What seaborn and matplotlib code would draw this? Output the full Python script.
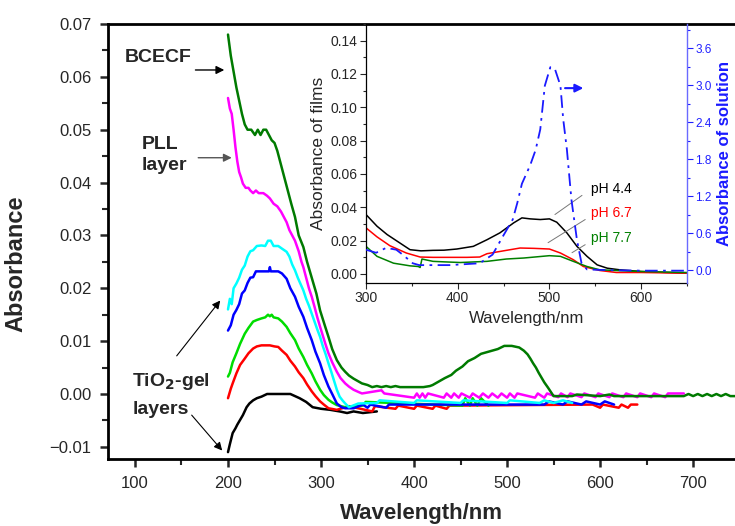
import numpy as np
import pandas as pd
import matplotlib
matplotlib.use("Agg")
import matplotlib.pyplot as plt
from matplotlib.ticker import MultipleLocator, FormatStrFormatter, FuncFormatter
import seaborn as sns

# ---------------- main-panel data (wavelength nm, absorbance) ----------------
bcecf_nm = [200, 203, 206, 209, 212, 215, 218, 221, 225, 229, 232, 235, 238, 241, 244, 247, 250, 253,
            256, 259, 262, 265, 268, 272, 276, 281, 285, 290, 295, 299, 304, 308, 312, 317, 322, 326,
            330, 335, 340, 344, 350, 355, 360, 365, 370, 375, 380, 385, 390, 400, 410, 417, 420, 425,
            433, 440, 445, 452, 458, 465, 472, 480, 490, 497, 505, 513, 518, 522, 525, 528, 531, 534,
            537, 540, 544, 547, 550, 570, 575, 600, 610, 615, 650, 690, 695, 700, 705, 710, 715, 720,
            725, 730, 735, 740, 745]
bcecf_abs = [0.068, 0.064, 0.061, 0.058, 0.0555, 0.053, 0.051, 0.050, 0.050, 0.049, 0.050, 0.049, 0.050,
             0.050, 0.049, 0.048, 0.0475, 0.046, 0.044, 0.042, 0.040, 0.038, 0.036, 0.0335, 0.030,
             0.0278, 0.025, 0.022, 0.019, 0.0158, 0.013, 0.0108, 0.0085, 0.0064, 0.005, 0.0042, 0.0035,
             0.0029, 0.0024, 0.002, 0.0017, 0.0013, 0.0015, 0.0013, 0.0015, 0.0013, 0.0015, 0.0013,
             0.0013, 0.0013, 0.0013, 0.0015, 0.0017, 0.0022, 0.003, 0.0036, 0.0044, 0.0052, 0.0062,
             0.0068, 0.0076, 0.0080, 0.0085, 0.0091, 0.0091, 0.0088, 0.0082, 0.0075, 0.0067, 0.0058,
             0.0050, 0.0040, 0.0031, 0.0022, 0.0012, 0.0004, -0.0004, -0.0004, -0.0001, -0.0004,
             -0.0001, -0.0004, -0.0004, -0.0004, 0.0000, -0.0004, 0.0000, -0.0004, 0.0000, -0.0004,
             0.0000, -0.0004, 0.0000, -0.0004, -0.0004]

pll_nm = [200, 202, 204, 206, 208, 210, 212, 214, 216, 219, 222, 224, 227, 230, 233, 238, 242, 245, 249,
          253, 257, 260, 263, 266, 269, 272, 276, 279, 281, 284, 287, 290, 293, 296, 299, 302, 305, 308,
          312, 317, 321, 326, 330, 335, 340, 344, 365, 368, 400, 403, 406, 409, 412, 415, 432, 435, 440,
          443, 448, 451, 460, 463, 470, 474, 480, 484, 490, 494, 500, 503, 508, 511, 530, 533, 540, 543,
          555, 558, 565, 568, 580, 583, 595, 598, 610, 613, 625, 628, 640, 643, 655, 658, 670, 673, 690]
pll_abs = [0.056, 0.054, 0.053, 0.050, 0.0467, 0.044, 0.042, 0.041, 0.0398, 0.039, 0.039, 0.0385, 0.038,
           0.0385, 0.038, 0.038, 0.0375, 0.037, 0.036, 0.0355, 0.0345, 0.0335, 0.0325, 0.031, 0.030,
           0.029, 0.027, 0.025, 0.024, 0.022, 0.020, 0.0184, 0.0165, 0.0145, 0.0127, 0.011, 0.0093,
           0.0077, 0.006, 0.0042, 0.003, 0.002, 0.0014, 0.0008, 0.0004, 0.0001, 0.0007, 0.0001, -0.0007,
           0.0001, -0.0007, 0.0001, -0.0007, 0.0001, -0.0007, 0.0001, -0.0007, 0.0001, -0.0007, 0.0001,
           -0.0007, 0.0001, -0.0007, 0.0001, -0.0007, 0.0001, -0.0007, 0.0001, -0.0007, 0.0001, -0.0007,
           0.0001, -0.0007, 0.0001, -0.0007, 0.0001, -0.0006, 0.0001, -0.0006, 0.0001, -0.0006, 0.0001,
           -0.0006, 0.0001, -0.0006, 0.0001, -0.0006, 0.0001, -0.0006, 0.0001, -0.0006, 0.0001,
           -0.0006, 0.0001, 0.0001]

cyan_nm = [200, 202, 204, 206, 209, 212, 215, 218, 221, 224, 227, 231, 236, 240, 243, 246, 249, 254, 258,
           263, 266, 269, 272, 275, 278, 281, 284, 287, 290, 293, 296, 299, 302, 305, 308, 311, 314, 317,
           320, 323, 326, 330, 340, 360, 363, 400, 403, 450, 453, 500, 503, 535, 540, 550, 560, 570]
cyan_abs = [0.016, 0.018, 0.017, 0.020, 0.0209, 0.022, 0.0235, 0.0243, 0.026, 0.027, 0.0272, 0.028,
            0.0281, 0.028, 0.029, 0.029, 0.028, 0.028, 0.0275, 0.0269, 0.026, 0.0245, 0.0234, 0.022,
            0.0208, 0.0196, 0.018, 0.0167, 0.0152, 0.0137, 0.0122, 0.0108, 0.009, 0.0075, 0.0058, 0.0042,
            0.0025, 0.0008, -0.0005, -0.0012, -0.0018, -0.0025, -0.0018, -0.0017, -0.0012, -0.0017,
            -0.0012, -0.0017, -0.0012, -0.0017, -0.0012, -0.0017, -0.0012, -0.0017, -0.0012, -0.0017]

blue_nm = [200, 203, 206, 209, 212, 215, 218, 221, 224, 227, 230, 244, 245, 246, 254, 258, 263, 267, 272,
           276, 281, 285, 290, 294, 299, 303, 308, 312, 317, 322, 326, 335, 345, 350, 353, 370, 373,
           540, 545, 560, 565, 580, 585, 600, 605, 615]
blue_abs = [0.012, 0.013, 0.015, 0.0159, 0.017, 0.019, 0.0196, 0.021, 0.022, 0.0221, 0.0232, 0.0232,
            0.024, 0.0232, 0.0232, 0.0228, 0.0218, 0.020, 0.0184, 0.0165, 0.0146, 0.0125, 0.0102, 0.008,
            0.0058, 0.0036, 0.0014, 0.0, -0.0018, -0.0025, -0.0027, -0.0027, -0.0020, -0.0026, -0.0020,
            -0.0026, -0.0020, -0.0020, -0.0014, -0.0020, -0.0014, -0.0020, -0.0014, -0.0020, -0.0014,
            -0.0020]

lime_nm = [200, 202, 205, 209, 213, 218, 222, 227, 231, 236, 240, 243, 245, 247, 249, 254, 258, 263, 267,
           272, 276, 281, 285, 290, 294, 299, 303, 308, 312, 317, 326, 345, 348, 452, 455, 460, 463, 468,
           472, 480]
lime_abs = [0.0033, 0.004, 0.006, 0.0077, 0.0095, 0.0114, 0.0125, 0.0137, 0.014, 0.0143, 0.0145, 0.015,
            0.0147, 0.015, 0.0145, 0.0143, 0.0137, 0.0127, 0.0115, 0.0102, 0.0086, 0.007, 0.0055, 0.0039,
            0.0024, 0.0008, -0.0002, -0.0011, -0.0016, -0.0021, -0.0025, -0.0022, -0.0015, -0.0022,
            -0.0008, -0.0022, -0.0008, -0.0022, -0.0008, -0.0022]

red_nm = [200, 203, 205, 209, 213, 218, 222, 227, 231, 236, 245, 250, 254, 258, 263, 267, 272, 276, 281,
          285, 290, 294, 299, 303, 308, 317, 330, 355, 358, 380, 383, 400, 403, 420, 423, 435, 438, 592,
          600, 603, 620, 623, 630, 633, 640]
red_abs = [-0.0008, 0.001, 0.002, 0.0039, 0.0055, 0.0067, 0.0077, 0.0086, 0.009, 0.0092, 0.0092, 0.009,
           0.0089, 0.0082, 0.0074, 0.0063, 0.0052, 0.0041, 0.003, 0.0018, 0.0005, -0.0004, -0.0014,
           -0.002, -0.0027, -0.003, -0.0023, -0.0033, -0.0023, -0.0028, -0.0022, -0.0028, -0.0022,
           -0.0028, -0.0022, -0.0028, -0.0022, -0.0020, -0.0026, -0.0020, -0.0026, -0.0020, -0.0026,
           -0.0020, -0.0020]

black_nm = [200, 202, 205, 208, 210, 213, 216, 220, 223, 227, 231, 236, 242, 250, 260, 267, 272, 277, 284,
            291, 300, 310, 320, 328, 335, 345, 360]
black_abs = [-0.011, -0.0095, -0.0074, -0.0065, -0.0058, -0.0049, -0.004, -0.0025, -0.0018, -0.0012,
             -0.0008, -0.0005, 0.0, 0.0, 0.0, 0.0, -0.0004, -0.0008, -0.0015, -0.0025, -0.0028, -0.003,
             -0.0033, -0.0036, -0.0033, -0.0036, -0.0033]

main_names = ["black", "red", "lime", "blue", "cyan", "PLL", "BCECF"]
main_colors = ["#000000", "#ff0000", "#00dd00", "#0000ff", "#00ffff", "#ff00ff", "#007a00"]

# ---------------- inset data ----------------
ph44_nm = [300, 312, 323, 337, 348, 360, 373, 385, 399, 417, 432, 446, 461, 470, 479, 490, 500, 508, 519,
           530, 541, 552, 563, 577, 600, 628, 650]
ph44_abs = [0.0356, 0.0286, 0.0236, 0.0185, 0.0145, 0.0138, 0.0141, 0.0142, 0.0149, 0.0165, 0.0205,
            0.0246, 0.0306, 0.0336, 0.033, 0.0326, 0.033, 0.031, 0.0246, 0.0165, 0.0105, 0.0054, 0.0034,
            0.0024, 0.0014, 0.0008, 0.0004]

ph67_nm = [300, 312, 326, 344, 359, 373, 410, 424, 432, 453, 468, 483, 500, 512, 526, 537, 555, 573, 600,
           650]
ph67_abs = [0.0276, 0.0222, 0.0169, 0.0125, 0.0101, 0.0099, 0.0099, 0.0101, 0.0121, 0.0141, 0.0155,
            0.0153, 0.0149, 0.0125, 0.0085, 0.0044, 0.002, 0.0008, 0.0008, 0.0004]

ph77_nm = [300, 312, 330, 348, 357, 359, 361, 373, 385, 403, 432, 453, 472, 500, 512, 526, 541, 555, 600,
           650]
ph77_abs = [0.0165, 0.0105, 0.0064, 0.0048, 0.0044, 0.0038, 0.0089, 0.0075, 0.0072, 0.0068, 0.0075,
            0.0089, 0.0095, 0.0109, 0.0105, 0.0075, 0.0044, 0.0024, 0.0014, 0.0008]

sol_nm = [300, 311, 322, 333, 340, 351, 358, 391, 424, 438, 449, 460, 465, 470, 479, 485, 490, 495, 501,
          506, 512, 515, 519, 524, 530, 535, 541, 560, 600, 650]
sol_abs = [0.33, 0.28, 0.36, 0.33, 0.25, 0.11, 0.08, 0.08, 0.11, 0.25, 0.54, 0.82, 1.09, 1.40, 1.70, 1.95,
           2.28, 2.99, 3.29, 3.26, 2.99, 2.45, 1.96, 1.14, 0.49, 0.11, 0.01, 0.0, -0.01, -0.01]

film_names = ["pH 4.4", "pH 6.7", "pH 7.7"]
film_colors = ["#000000", "#ff0000", "#008000"]

# ---------------- build tables ----------------
main_nm = [black_nm, red_nm, lime_nm, blue_nm, cyan_nm, pll_nm, bcecf_nm]
main_abs = [black_abs, red_abs, lime_abs, blue_abs, cyan_abs, pll_abs, bcecf_abs]
df_main = pd.concat([pd.DataFrame({"nm": x, "abs": y, "series": n})
                     for x, y, n in zip(main_nm, main_abs, main_names)], ignore_index=True)
df_film = pd.concat([pd.DataFrame({"nm": x, "abs": y, "series": n})
                     for x, y, n in zip([ph44_nm, ph67_nm, ph77_nm], [ph44_abs, ph67_abs, ph77_abs],
                                        film_names)], ignore_index=True)
df_sol = pd.DataFrame({"nm": sol_nm, "abs": sol_abs})

sns.set_style("ticks")
plt.rcParams["font.family"] = ["Liberation Sans", "DejaVu Sans"]
plt.rcParams["axes.unicode_minus"] = True

W, H = 735, 526
fig = plt.figure(figsize=(W / 100, H / 100), dpi=100)

# main axes
L, R, T, B = 108, 735, 24, 459
ax = fig.add_axes([L / W, 1 - B / H, (R - L) / W, (B - T) / H])
sns.lineplot(data=df_main, x="nm", y="abs", hue="series", hue_order=main_names,
             palette=dict(zip(main_names, main_colors)), estimator=None, sort=False,
             linewidth=1.8, legend=False, ax=ax)
ax.set_xlim(71, 745)
ax.set_ylim(-0.0123, 0.07)
ax.xaxis.set_major_locator(MultipleLocator(100))
ax.xaxis.set_minor_locator(MultipleLocator(50))
ax.yaxis.set_major_locator(MultipleLocator(0.01))
ax.yaxis.set_minor_locator(MultipleLocator(0.005))
ax.yaxis.set_major_formatter(FuncFormatter(lambda v, p: ("%.2f" % v).replace("-", "\u2212")
                                           if abs(v) > 1e-9 else "0.00"))
ax.tick_params(which="major", direction="out", length=6, width=1.8, labelsize=12, pad=6)
ax.tick_params(which="minor", direction="out", length=4, width=1.5)
for s in ["left", "bottom", "top"]:
    ax.spines[s].set_linewidth(2.0)
    ax.spines[s].set_color("black")
ax.spines["right"].set_visible(False)
ax.spines["top"].set_visible(True)
ax.set_xlabel("Wavelength/nm", fontsize=16, fontweight="bold", labelpad=9)
ax.set_ylabel("Absorbance", fontsize=17, fontweight="bold")
ax.yaxis.set_label_coords(-0.128, 0.45)

# annotations, main panel
ax.text(89, 0.0636, "BCECF", fontsize=14, fontweight="bold", ha="left", va="center")
ax.annotate("", xy=(199, 0.0613), xytext=(162, 0.0613),
            arrowprops=dict(arrowstyle="-|>", color="black", lw=1.0, mutation_scale=12))
ax.text(107.5, 0.0452, "PLL\nlayer", fontsize=14, fontweight="bold", ha="left", va="center",
        linespacing=1.35)
ax.annotate("", xy=(207, 0.0447), xytext=(165, 0.0447),
            arrowprops=dict(arrowstyle="-|>", color="#555555", lw=1.0, mutation_scale=12))
ax.text(97, 0.0023, r"TiO$_{\mathbf{2}}$-gel", fontsize=14, fontweight="bold", ha="left", va="center")
ax.text(97, -0.003, "layers", fontsize=14, fontweight="bold", ha="left", va="center")
ax.annotate("", xy=(193.5, 0.0181), xytext=(143, 0.0068),
            arrowprops=dict(arrowstyle="-|>", color="black", lw=0.8, mutation_scale=12))
ax.annotate("", xy=(195.7, -0.0111), xytext=(159, -0.0036),
            arrowprops=dict(arrowstyle="-|>", color="black", lw=0.8, mutation_scale=12))

# inset
iL, iR, iT, iB = 366, 687, 24, 283
ax2 = fig.add_axes([iL / W, 1 - iB / H, (iR - iL) / W, (iB - iT) / H])
ax2.patch.set_alpha(0)
sns.lineplot(data=df_film, x="nm", y="abs", hue="series", hue_order=film_names,
             palette=dict(zip(film_names, film_colors)), estimator=None, sort=False,
             linewidth=1.1, legend=False, ax=ax2)
ax2.set_xlim(300, 650)
ax2.set_ylim(-0.0055, 0.150)
ax2.xaxis.set_major_locator(MultipleLocator(100))
ax2.xaxis.set_minor_locator(MultipleLocator(50))
ax2.yaxis.set_major_locator(MultipleLocator(0.02))
ax2.yaxis.set_minor_locator(MultipleLocator(0.01))
ax2.yaxis.set_major_formatter(FormatStrFormatter("%.2f"))
ax2.tick_params(which="major", direction="out", length=4, width=0.8, labelsize=10, pad=2)
ax2.tick_params(which="minor", direction="out", length=2.5, width=0.8)
ax2.spines["top"].set_visible(False)
ax2.spines["right"].set_visible(False)
for s in ["left", "bottom"]:
    ax2.spines[s].set_linewidth(0.9)
    ax2.spines[s].set_color("black")
ax2.set_xlabel("Wavelength/nm", fontsize=12, labelpad=4)
ax2.set_ylabel("Absorbance of films", fontsize=12.5, labelpad=3)

ax3 = ax2.twinx()
sns.lineplot(data=df_sol, x="nm", y="abs", color="#1a1aff", linewidth=1.3,
             linestyle=(0, (7, 3, 1.5, 3)), estimator=None, sort=False, ax=ax3)
ax3.set_ylim(-0.21, 3.99)
ax3.yaxis.set_major_locator(MultipleLocator(0.6))
ax3.yaxis.set_minor_locator(MultipleLocator(0.3))
ax3.yaxis.set_major_formatter(FormatStrFormatter("%.1f"))
ax3.tick_params(which="major", direction="out", length=4, width=0.8, labelsize=8.5, pad=2,
                colors="#2020ff")
ax3.tick_params(which="minor", direction="out", length=2.5, width=0.8, colors="#2020ff")
for s in ["top", "left", "bottom"]:
    ax3.spines[s].set_visible(False)
ax3.spines["right"].set_visible(True)
ax3.spines["right"].set_color("#6a6aff")
ax3.spines["right"].set_linewidth(1.0)
ax3.set_ylabel("Absorbance of solution", fontsize=12, fontweight="bold", color="#1a1aff", labelpad=4)
ax3.annotate("", xy=(540, 2.95), xytext=(514, 2.95),
             arrowprops=dict(arrowstyle="-|>", color="#1a1aff", lw=1.5, mutation_scale=12))

# pH labels with leader lines
ax2.text(568, 0.0508, "pH 4.4", fontsize=10, color="black", ha="center", va="center")
ax2.text(567, 0.0363, "pH 6.7", fontsize=10, color="#ff0000", ha="center", va="center")
ax2.text(568, 0.0218, "pH 7.7", fontsize=10, color="#008000", ha="center", va="center")
ax2.plot([535.5, 506], [0.0471, 0.0356], color="#777777", lw=0.7)
ax2.plot([539, 498.5], [0.0326, 0.0187], color="#777777", lw=0.7)
ax2.plot([539, 524.6], [0.0175, 0.0127], color="#777777", lw=0.7)

fig.savefig("out.png", dpi=100)
